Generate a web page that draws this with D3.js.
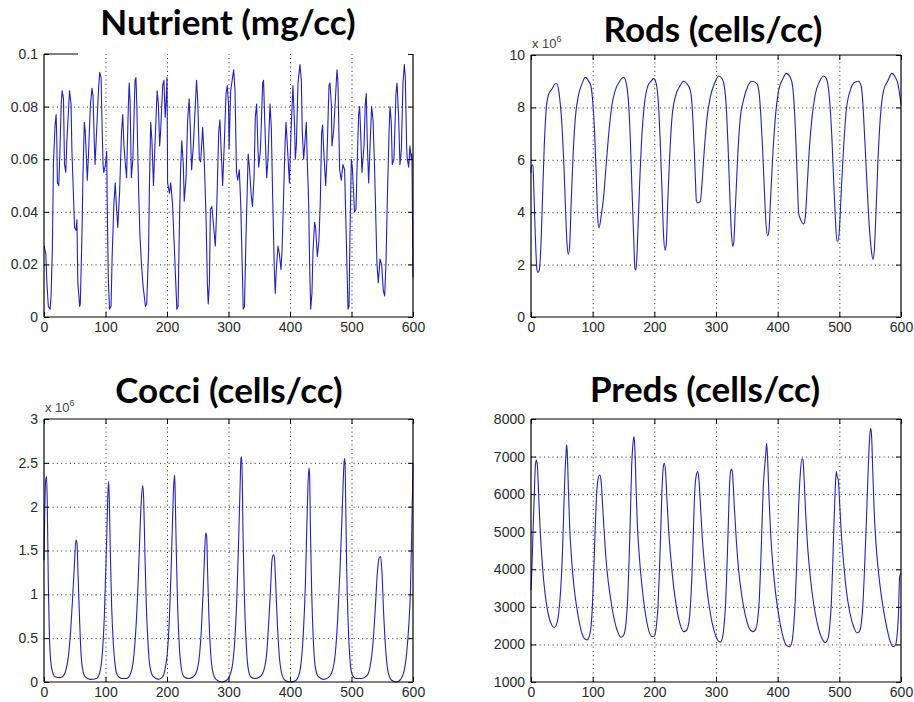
<!DOCTYPE html>
<html lang="en">
<head>
<meta charset="utf-8">
<title>Nutrient, Rods, Cocci, Preds</title>
<script src="https://d3js.org/d3.v7.min.js"></script>
<style>
  body { margin: 0; background: #fff; }
  svg { display: block; }
  .title { font-family: Lato, "Open Sans", sans-serif; font-weight: 700; fill: #000; }
  .axis text { font-family: "Liberation Sans", Arial, sans-serif; font-size: 14px; fill: #2a2a2a; }
  .grid line { stroke: #222; stroke-dasharray: 1 3.3; }
  .mult { font-family: "Liberation Sans", Arial, sans-serif; font-size: 13px; fill: #444; }
</style>
</head>
<body>
<script>
// time axis shared by all four panels
var xTicks = [0, 100, 200, 300, 400, 500, 600];

// [t, mg/cc]
var nutrient = [[0,.027],[3,.024],[4.5,.014],[7,.004],[10,.003],[11.5,.008],[13.7,.027],[15.3,.058],[18,.073],[19.7,.077],[20.7,.069],[21.8,.051],[24,.050],[26,.064],[28,.081],[29.5,.086],[31.7,.083],[33.3,.058],[35.5,.055],[37,.066],[41.5,.086],[44,.081],[45.3,.064],[49.7,.034],[52,.033],[53.5,.037],[55,.013],[58,.004],[59,.005],[61.7,.031],[63.3,.053],[65.5,.074],[67,.071],[69,.060],[70.4,.052],[72.6,.063],[75.3,.080],[78,.087],[79.7,.084],[82,.065],[83,.058],[85,.068],[89,.088],[90.6,.093],[92.8,.091],[94.5,.072],[96,.058],[97.2,.055],[100,.058],[102,.063],[102.6,.047],[104.5,.015],[106.5,.003],[109,.004],[110.8,.023],[113.6,.043],[115.8,.051],[118,.041],[120,.034],[123,.048],[126,.070],[128,.077],[130,.065],[131.6,.060],[134.3,.053],[137,.079],[138.5,.089],[140,.082],[142,.053],[144.5,.060],[148,.090],[149.5,.091],[151,.080],[152.5,.062],[154,.047],[156,.031],[158.5,.020],[161,.012],[165,.004],[167,.005],[170,.025],[171.5,.051],[173.5,.074],[175.5,.067],[178,.050],[180,.063],[184,.086],[186,.081],[188,.065],[189.5,.070],[193,.088],[195,.090],[197,.076],[198.5,.082],[200,.091],[201,.051],[204,.047],[206,.051],[209,.043],[216,.003],[218,.004],[220,.033],[222,.055],[224,.067],[226.5,.058],[228,.044],[231,.053],[233.6,.075],[236,.083],[238,.071],[240,.056],[243,.066],[248,.090],[250,.082],[252.6,.060],[254.7,.059],[258,.072],[260,.063],[263.4,.039],[265.6,.013],[267,.005],[269,.013],[270.5,.041],[273,.042],[278.6,.027],[280.8,.041],[284,.070],[286,.075],[288,.064],[290.5,.050],[293,.065],[296,.085],[298,.088],[300,.081],[301,.064],[303.5,.086],[308.4,.094],[310.6,.086],[313,.055],[315,.052],[317.6,.056],[320,.042],[324,.003],[326,.004],[328.5,.031],[332,.062],[334,.057],[337,.046],[339,.042],[341.5,.053],[343.6,.076],[345.8,.081],[347.4,.068],[349,.057],[351.8,.063],[355.6,.089],[357,.090],[359,.074],[362,.053],[364,.059],[367.5,.081],[369.6,.072],[371.8,.046],[374.5,.018],[376,.009],[378,.019],[380.5,.027],[382.7,.024],[385.4,.018],[387,.025],[389,.041],[392,.066],[393.5,.074],[396,.064],[399,.051],[401.6,.070],[404.8,.088],[407.5,.072],[408.6,.060],[410.3,.065],[413,.089],[416.2,.096],[418.4,.090],[420,.070],[422.2,.060],[425,.069],[426.5,.074],[428,.060],[430.3,.044],[432,.019],[433.6,.003],[435.7,.009],[437.4,.025],[440,.036],[441.7,.034],[444.4,.023],[447,.029],[449.3,.044],[451.4,.070],[453,.073],[454.7,.064],[458,.050],[460,.060],[463.4,.088],[465,.089],[467.2,.081],[468.2,.065],[471,.071],[476.4,.094],[478,.089],[480.7,.056],[483.4,.052],[486,.058],[488.8,.056],[492,.025],[494.3,.003],[496,.004],[497.5,.031],[499.7,.060],[501.3,.057],[505,.040],[507.3,.041],[509.4,.060],[511.6,.077],[513.2,.080],[514.9,.070],[517,.055],[520.3,.065],[522.4,.081],[524,.085],[525.7,.066],[527.9,.051],[530,.064],[532.7,.080],[535,.075],[537.6,.056],[541.4,.020],[543.6,.013],[546.3,.022],[549,.020],[551.7,.010],[553.9,.008],[556,.020],[558.2,.044],[561,.070],[562.6,.080],[564.7,.074],[566.3,.058],[569,.060],[572.3,.085],[574,.089],[576.6,.076],[578.8,.058],[581,.063],[583.7,.089],[585.9,.096],[587.5,.091],[589.7,.064],[590.8,.060],[593,.057],[595,.065],[597.2,.060],[598.3,.062],[600,.015]];
var nutrientTicks = [0, 0.02, 0.04, 0.06, 0.08, 0.1];

// [t, cells/cc x 1e6]
var rods = [[0,5.5],[1.1,5.8],[3.2,5.8],[4.3,5.1],[7,3.1],[9.7,1.8],[11.4,1.7],[13.5,1.8],[16.2,2.8],[18.9,4.7],[21.6,6.6],[24.9,8.0],[28.6,8.5],[34,8.7],[39.5,8.9],[42.2,8.9],[44.9,8.65],[47.6,8.1],[50.3,7.3],[53,6.0],[55.7,4.3],[58.4,2.8],[60.5,2.4],[62.7,2.7],[64.9,4.2],[68.1,6.1],[71.9,7.6],[77.3,8.5],[82.7,8.9],[88.1,9.15],[93.5,9.0],[97.3,8.8],[100.5,8.1],[103.2,7.0],[105.9,5.35],[108.1,3.8],[110.3,3.4],[113.5,3.8],[117.8,4.6],[122.2,5.9],[126.5,7.1],[131.3,8.1],[136.7,8.65],[143.8,9.0],[150.3,9.15],[154.6,8.9],[158.4,8.1],[161.1,6.75],[163.8,4.85],[166.5,3.06],[168.6,1.85],[170.3,1.8],[173,3.06],[176.2,5.1],[180,7.0],[183.8,8.1],[189.2,8.8],[194.6,9.0],[198.9,9.1],[203.2,8.9],[207,8.0],[209.7,6.6],[212.4,4.85],[215.1,3.06],[217.3,2.55],[219.4,2.8],[221.6,4.3],[224.8,6.1],[228.6,7.6],[234,8.4],[241.1,8.8],[247.5,9.0],[253,8.9],[258.4,8.65],[261.1,8.1],[263.8,6.9],[266.5,5.35],[268.1,4.45],[270.3,4.35],[274.6,4.4],[277.3,5.1],[281.1,6.4],[285.4,7.6],[290.8,8.4],[297.3,8.9],[304.3,9.2],[309.7,9.1],[313.5,8.8],[316.7,8.0],[319.4,6.6],[322.1,4.85],[324.8,3.3],[327,2.7],[328.6,2.8],[331.3,4.1],[335.1,6.1],[339.4,7.6],[344.8,8.3],[351.3,8.8],[358.4,9.0],[366.5,8.9],[370.2,8.5],[372.9,7.6],[375.6,6.4],[378.4,4.85],[381,3.6],[383.8,3.1],[385.9,3.3],[388.1,4.3],[391.9,6.1],[396.2,7.6],[401.6,8.65],[408.6,9.1],[414,9.3],[420.5,9.15],[424.3,8.8],[427,8.0],[429.7,6.6],[432.4,4.85],[434,3.95],[436.7,3.75],[442.1,3.55],[444.8,3.8],[447.5,4.85],[451.3,6.4],[455.6,7.6],[461,8.5],[468.1,9.0],[474.6,9.2],[478.9,9.1],[482.7,8.65],[485.4,7.9],[488.1,6.75],[490.8,5.2],[493.5,3.8],[496.2,2.9],[497.8,2.9],[500,3.3],[503.2,4.85],[507,6.5],[511.3,7.9],[517.8,8.65],[524.3,8.95],[531.3,9.0],[535.6,8.8],[538.3,8.1],[541,6.9],[544.8,5.1],[548.6,3.45],[551.9,2.55],[554.6,2.2],[556.7,2.55],[559.4,3.95],[562.7,6.0],[566.4,7.6],[571.8,8.65],[578.3,9.0],[585.4,9.3],[590.8,9.15],[595,8.9],[597.8,8.5],[600,8.1]];
var rodsTicks = [0, 2, 4, 6, 8, 10];

// [t, cells/cc x 1e6]
var cocci = [[0,1.39],[1.1,1.89],[2.7,2.3],[4.3,2.34],[5.4,2.0],[7,1.13],[8.7,0.55],[10.8,0.25],[13.6,0.12],[17.9,0.06],[26,0.05],[31.4,0.07],[35.8,0.14],[39.6,0.29],[43.4,0.59],[46.6,0.97],[49.3,1.32],[52,1.62],[53.7,1.58],[55.3,1.24],[57.5,0.78],[59.6,0.40],[62.3,0.17],[66.7,0.06],[74.8,0.03],[85.6,0.04],[91.1,0.12],[94.9,0.33],[98.1,0.75],[100.3,1.24],[101.9,1.62],[103.5,2.08],[105.1,2.29],[106.2,2.08],[107.9,1.47],[110,0.86],[112.7,0.44],[115.4,0.21],[119.2,0.08],[126.3,0.04],[134.4,0.04],[140.9,0.10],[145.3,0.25],[149,0.56],[152.3,1.01],[155,1.51],[157.7,2.0],[160.4,2.24],[162.1,2.08],[164.2,1.43],[166.4,0.86],[169.1,0.44],[172.4,0.17],[177.8,0.06],[185.9,0.03],[193,0.06],[196.7,0.14],[200.5,0.33],[203.8,0.71],[206.5,1.24],[208.7,1.77],[210.8,2.23],[212.5,2.36],[213.5,2.08],[215.2,1.47],[217.3,0.86],[220.1,0.40],[223.3,0.16],[227.6,0.06],[234.7,0.04],[242.8,0.06],[248.2,0.12],[252.6,0.29],[255.8,0.59],[259.1,1.09],[261.2,1.47],[262.9,1.70],[264.5,1.66],[266.1,1.24],[268.3,0.71],[271,0.33],[274.3,0.12],[279.7,0.03],[288.9,0.0],[297,0.02],[302.4,0.08],[306.8,0.21],[310.6,0.52],[313.8,1.01],[316.5,1.62],[318.7,2.19],[320.3,2.55],[321.4,2.57],[322.5,2.27],[323.6,1.70],[325.7,1.01],[328.5,0.48],[331.7,0.17],[336,0.06],[343.1,0.04],[351.2,0.06],[357.7,0.14],[362.1,0.33],[365.3,0.67],[368.6,1.09],[370.7,1.39],[372.9,1.45],[374.5,1.43],[376.7,1.13],[379.4,0.67],[382.7,0.29],[386.4,0.10],[391.8,0.02],[400,0.0],[408.1,0.01],[413.5,0.06],[417.9,0.21],[421.7,0.56],[424.9,1.09],[427.1,1.70],[429.3,2.27],[430.9,2.44],[432,2.34],[433.1,1.77],[435.2,1.05],[437.9,0.48],[441.2,0.17],[446.1,0.06],[454.2,0.03],[462.3,0.05],[469.4,0.14],[473.7,0.33],[477.5,0.71],[481.3,1.28],[484,1.77],[486.2,2.23],[488.3,2.53],[489.4,2.55],[490.5,2.08],[492.1,1.32],[494.8,0.63],[497.6,0.25],[501.4,0.08],[507.3,0.04],[516.5,0.04],[524.7,0.07],[530.1,0.17],[534.4,0.40],[538.2,0.78],[542,1.24],[544.7,1.41],[547.4,1.43],[549.6,1.24],[552.3,0.78],[555.6,0.37],[559.3,0.12],[565.3,0.02],[573.4,0.0],[579.9,0.03],[585.4,0.12],[589.7,0.33],[593,0.63],[595.7,1.01],[597.9,1.70],[600,2.5]];
var cocciTicks = [0, 0.5, 1, 1.5, 2, 2.5, 3];

// [t, cells/cc]
var preds = [[0,3450],[1.6,4070],[3.2,4960],[5.4,6020],[7,6730],[8.6,6910],[10.3,6770],[11.9,6200],[14.1,5310],[16.8,4510],[20.5,3710],[24.9,3090],[29.7,2690],[34.6,2490],[37.8,2450],[41.1,2520],[44.9,2830],[48.1,3450],[50.8,4340],[53,5490],[55.1,6560],[56.8,7090],[57.8,7310],[58.9,7090],[60.5,6200],[62.7,5130],[65.9,4250],[70.3,3450],[75.7,2830],[81.1,2380],[86.5,2160],[90.8,2120],[94,2190],[97.3,2470],[99.5,3000],[101.6,3890],[103.8,4960],[105.9,5840],[108.6,6380],[111.3,6510],[113.5,6380],[116.2,5670],[119.5,4780],[123.2,3980],[128.6,3270],[134,2740],[140.5,2340],[145.9,2190],[150.3,2250],[154,2560],[156.7,3180],[158.9,4160],[161.1,5400],[163.2,6730],[165.4,7350],[167,7530],[168.6,7170],[170.3,6200],[172.4,5220],[175.7,4340],[180,3540],[185.4,2830],[190.8,2380],[196.2,2210],[200,2220],[203.2,2470],[205.9,3000],[208.1,3890],[210.3,4960],[212.4,6110],[214.6,6730],[216.2,6820],[218.4,6550],[220.5,5840],[223.2,5040],[227,4250],[231.3,3540],[236.7,2920],[242.1,2520],[247.5,2340],[251.9,2370],[255.7,2560],[258.4,3000],[261.1,3890],[263.2,4960],[265.4,6020],[268.1,6510],[270.3,6600],[272.4,6380],[274.6,5750],[277.3,4960],[281.1,4160],[285.4,3450],[290.8,2830],[297.3,2340],[302.7,2120],[307,2060],[310.2,2160],[312.9,2470],[315.6,3090],[317.8,4070],[320,5220],[322.1,6290],[324.3,6640],[325.9,6660],[327.5,6380],[329.7,5670],[332.9,4780],[336.7,3980],[342.1,3270],[347.5,2780],[354,2430],[359.9,2340],[364.3,2400],[367.5,2650],[370.2,3180],[372.4,4070],[374.5,5130],[376.7,6200],[378.9,6730],[380.5,7040],[382.1,7350],[383.8,6910],[385.9,5930],[388.6,4960],[392.4,4070],[396.7,3360],[402.1,2740],[408.6,2210],[414,1980],[419.4,1940],[423.2,2070],[425.9,2470],[428.6,3180],[431.3,4340],[434,5670],[436.7,6550],[439.4,6950],[441.1,6910],[443.2,6290],[445.4,5490],[448.6,4600],[452.9,3800],[458.3,3090],[464.8,2520],[471.9,2160],[477.3,2050],[481.6,2160],[484.3,2470],[487,3090],[489.2,4070],[491.3,5220],[493.5,6200],[495.1,6600],[496.7,6460],[498.3,6380],[500.5,5750],[503.2,4960],[507,4160],[511.3,3450],[516.7,2870],[523.2,2470],[528.6,2310],[532.4,2340],[535.6,2560],[538.3,3090],[541,4070],[543.7,5220],[546.4,6460],[548.6,7350],[550.8,7750],[552.4,7530],[554,6730],[556.2,5670],[559.4,4690],[563.7,3890],[569.1,3180],[575.6,2560],[582.6,2070],[587,1940],[590.8,1980],[593.5,2210],[595.7,2740],[597.8,3800],[600,3890]];
var predsTicks = [1000, 2000, 3000, 4000, 5000, 6000, 7000, 8000];

var W = 914, H = 702;

var svg = d3.select("body").append("svg")
    .attr("width", W)
    .attr("height", H);

// layout of the four panels (pixel boxes)
var panels = [
  { title: "Nutrient (mg/cc)", data: nutrient, ticks: nutrientTicks, smooth: false,
    left: 44, right: 413, top: 54, bottom: 317, tx: 228, ty: 35, mult: false, stubTop: 34 },
  { title: "Rods (cells/cc)", data: rods, ticks: rodsTicks, smooth: true,
    left: 531, right: 901, top: 55, bottom: 317, tx: 713, ty: 42, mult: true },
  { title: "Cocci (cells/cc)", data: cocci, ticks: cocciTicks, smooth: true,
    left: 44, right: 413, top: 419, bottom: 682, tx: 229, ty: 403, mult: true },
  { title: "Preds (cells/cc)", data: preds, ticks: predsTicks, smooth: true,
    left: 531, right: 901, top: 419, bottom: 682, tx: 705, ty: 402, mult: false }
];

panels.forEach(function(p) {
  var w = p.right - p.left, h = p.bottom - p.top;
  var x = d3.scaleLinear().domain([0, 600]).range([0, w]);
  var y = d3.scaleLinear().domain(d3.extent(p.ticks)).range([h, 0]);

  var g = svg.append("g").attr("transform", "translate(" + p.left + "," + p.top + ")");

  // dotted grid, interior only
  var innerX = xTicks.slice(1, -1), innerY = p.ticks.slice(1, -1);
  g.append("g").attr("class", "grid")
    .attr("transform", "translate(0," + h + ")")
    .call(d3.axisBottom(x).tickValues(innerX).tickSize(-h).tickFormat(""))
    .call(function(s) { s.select(".domain").remove(); });
  g.append("g").attr("class", "grid")
    .call(d3.axisLeft(y).tickValues(innerY).tickSize(-w).tickFormat(""))
    .call(function(s) { s.select(".domain").remove(); });

  // series
  var line = d3.line()
    .x(function(d) { return x(d[0]); })
    .y(function(d) { return y(d[1]); })
    .curve(p.smooth ? d3.curveMonotoneX : d3.curveLinear);
  g.append("path")
    .datum(p.data)
    .attr("fill", "none")
    .attr("stroke", "#2222c0")
    .attr("stroke-width", 1.1)
    .attr("stroke-linejoin", "round")
    .attr("d", line);

  // axes with inward ticks
  g.append("g").attr("class", "axis")
    .attr("transform", "translate(0," + h + ")")
    .call(d3.axisBottom(x).tickValues(xTicks).tickSizeInner(-5).tickSizeOuter(0).tickPadding(5));
  g.append("g").attr("class", "axis")
    .call(d3.axisLeft(y).tickValues(p.ticks).tickSizeInner(-5).tickSizeOuter(0).tickPadding(6)
      .tickFormat(function(d) { return String(d); }));
  g.append("g").attr("class", "axis")
    .attr("transform", "translate(" + w + ",0)")
    .call(d3.axisRight(y).tickValues(p.ticks).tickSizeInner(-5).tickSizeOuter(0).tickFormat(""));
  g.append("g").attr("class", "axis")
    .call(d3.axisTop(x).tickValues(xTicks).tickSizeInner(p.stubTop ? 0 : -5).tickSizeOuter(0).tickFormat(""));
  g.selectAll(".axis .domain").remove();
  g.selectAll(".axis line").attr("stroke", "#000");

  // box
  var box = g.append("g").attr("stroke", "#000").attr("stroke-width", 1.2).attr("fill", "none");
  box.append("line").attr("x1", 0).attr("x2", 0).attr("y1", 0).attr("y2", h);
  box.append("line").attr("x1", 0).attr("x2", w).attr("y1", h).attr("y2", h);
  box.append("line").attr("x1", w).attr("x2", w).attr("y1", 0).attr("y2", h);
  box.append("line").attr("x1", 0).attr("x2", p.stubTop ? p.stubTop : w).attr("y1", 0).attr("y2", 0);

  // exponent label
  if (p.mult) {
    var m = g.append("text").attr("class", "mult").attr("x", 1).attr("y", -7);
    m.append("tspan").text("x 10");
    m.append("tspan").attr("dy", -6).style("font-size", "9px").text("6");
  }

  svg.append("text")
    .attr("class", "title")
    .attr("x", p.tx)
    .attr("y", p.ty)
    .attr("text-anchor", "middle")
    .style("font-size", "35px")
    .text(p.title);
});
</script>
</body>
</html>
